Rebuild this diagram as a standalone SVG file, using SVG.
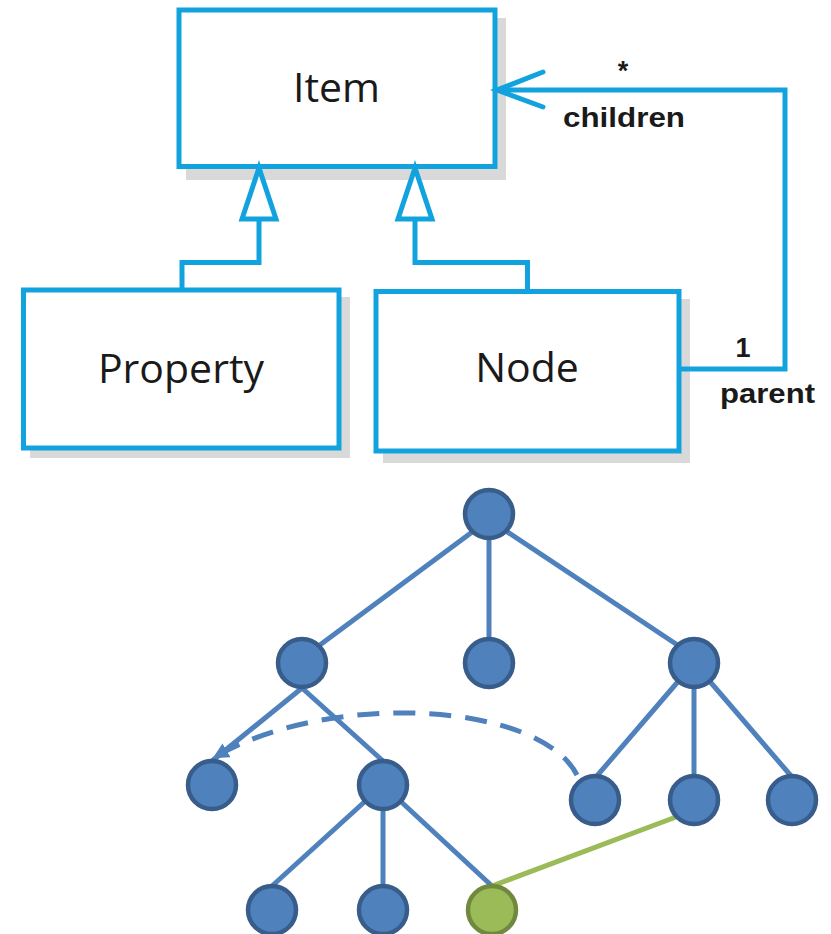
<svg xmlns="http://www.w3.org/2000/svg" width="831" height="934" viewBox="0 0 831 934">
  <defs>
    <style>
      .box { fill: #ffffff; stroke: #12a3df; stroke-width: 5; }
      .shadow { fill: #d9d9d9; }
      .uml { fill: none; stroke: #12a3df; stroke-width: 5; stroke-linejoin: miter; }
      .gen { fill: #ffffff; stroke: #12a3df; stroke-width: 5; stroke-linejoin: miter; }
      .cls { font-family: "Open Sans", "Noto Sans", sans-serif; font-size: 41px; fill: #1a1a1a; text-anchor: middle; }
      .role { font-family: "Liberation Sans", Arial, sans-serif; font-weight: bold; font-size: 27px; fill: #1a1a1a; }
      .edge { fill: none; stroke: #4f81bd; stroke-width: 5; }
      .link { fill: none; stroke: #9bbb59; stroke-width: 5; }
      .ref { fill: none; stroke: #4f81bd; stroke-width: 5; stroke-dasharray: 22 14; }
      .tn { fill: #4f81bd; stroke: #385d8a; stroke-width: 4.5; }
      .tg { fill: #9bbb59; stroke: #71893f; stroke-width: 4.5; }
    </style>
    <marker id="refHead" markerUnits="userSpaceOnUse" markerWidth="16" markerHeight="16" viewBox="0 0 12 12" refX="10" refY="6" orient="auto">
      <path d="M0,0 L12,6 L0,12 z" fill="#4f81bd"/>
    </marker>
  </defs>

  <!-- UML class diagram: classes -->
  <g id="item">
    <rect class="shadow" x="186" y="18" width="320" height="162"/>
    <rect class="box" x="179" y="10" width="316" height="156.5"/>
    <text class="cls" x="336.5" y="102">Item</text>
  </g>

  <g id="property">
    <rect class="shadow" x="30" y="297" width="320" height="161"/>
    <rect class="box" x="23.5" y="290" width="315.5" height="158"/>
    <text class="cls" x="181" y="383">Property</text>
  </g>

  <g id="node">
    <rect class="shadow" x="383" y="299" width="307" height="164"/>
    <rect class="box" x="376" y="291.5" width="303" height="159.5"/>
    <text class="cls" x="527" y="382">Node</text>
  </g>

  <!-- UML class diagram: relations -->
  <g id="connectors-uml">
    <!-- Property generalization -->
    <polyline class="uml" points="182,290 182,262.5 259,262.5 259,219"/>
    <polygon class="gen" points="259,168 242,219 276,219"/>
    <!-- Node generalization -->
    <polyline class="uml" points="527.5,291.5 527.5,262.5 415,262.5 415,219"/>
    <polygon class="gen" points="415,168 398,219 432,219"/>
    <!-- parent / children association -->
    <polyline class="uml" points="679,369 785,369 785,90 497,90"/>
    <polyline class="uml" points="543,72 497,90 543,107" stroke-linecap="round"/>
    <text class="role" x="623" y="80" text-anchor="middle" font-size="26">*</text>
    <text class="role" x="563" y="127" textLength="122" lengthAdjust="spacingAndGlyphs">children</text>
    <text class="role" x="743" y="357" text-anchor="middle">1</text>
    <text class="role" x="720" y="403" textLength="95" lengthAdjust="spacingAndGlyphs">parent</text>
  </g>

  <!-- Tree example -->
  <g id="tree-connectors">
    <line class="edge" x1="487" y1="521" x2="305" y2="656"/>
    <line class="edge" x1="489" y1="520" x2="489" y2="640"/>
    <line class="edge" x1="491" y1="521" x2="694" y2="656"/>
    <line class="edge" x1="302" y1="688" x2="212" y2="761"/>
    <line class="edge" x1="302" y1="688" x2="383" y2="761"/>
    <line class="edge" x1="694" y1="663" x2="596" y2="777"/>
    <line class="edge" x1="694" y1="663" x2="694" y2="777"/>
    <line class="edge" x1="694" y1="663" x2="792" y2="777"/>
    <line class="edge" x1="383" y1="785" x2="272" y2="886"/>
    <line class="edge" x1="383" y1="785" x2="383" y2="886"/>
    <line class="edge" x1="383" y1="785" x2="492" y2="886"/>
    <line class="link" x1="492" y1="886" x2="684" y2="814"/>
    <path class="ref" d="M577,775 C540,702 330,690 215,757" marker-end="url(#refHead)"/>
  </g>

  <g id="tree-nodes">
    <circle id="t-root" class="tn" cx="489" cy="514" r="24"/>
    <circle id="t-a" class="tn" cx="302" cy="663" r="24"/>
    <circle id="t-b" class="tn" cx="489" cy="663" r="24"/>
    <circle id="t-c" class="tn" cx="694" cy="663" r="24"/>
    <circle id="t-a1" class="tn" cx="212" cy="785" r="24"/>
    <circle id="t-a2" class="tn" cx="383" cy="785" r="24"/>
    <circle id="t-c1" class="tn" cx="595" cy="800" r="24"/>
    <circle id="t-c2" class="tn" cx="694" cy="800" r="24"/>
    <circle id="t-c3" class="tn" cx="792" cy="800" r="24"/>
    <circle id="t-a21" class="tn" cx="272" cy="910" r="24"/>
    <circle id="t-a22" class="tn" cx="383" cy="910" r="24"/>
    <circle id="t-a23" class="tg" cx="492" cy="910" r="24"/>
  </g>
</svg>
